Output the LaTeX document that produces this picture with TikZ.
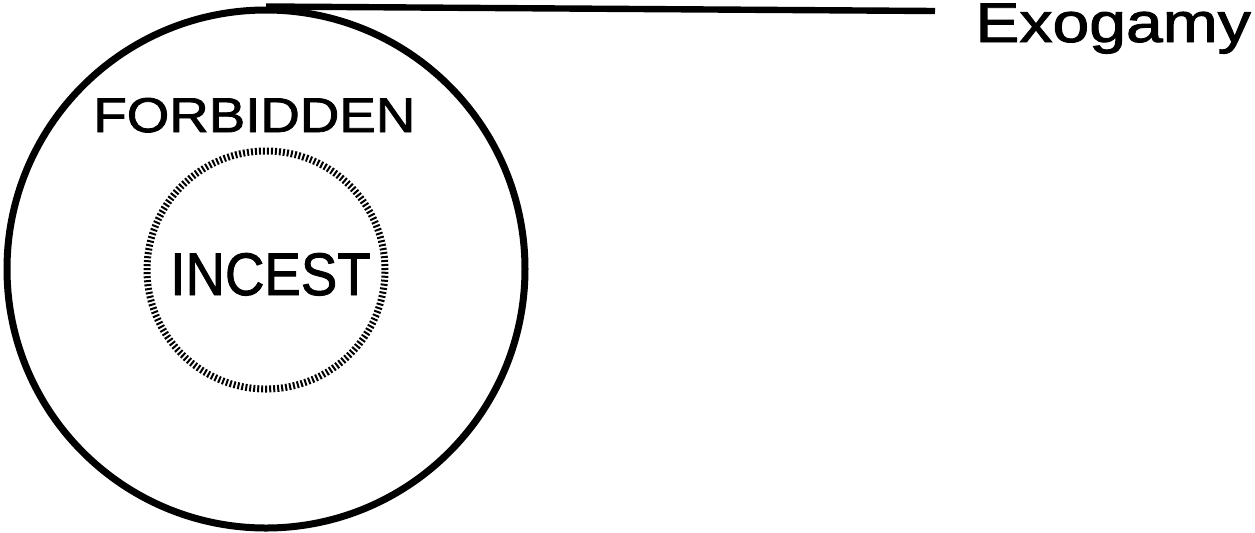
\documentclass[tikz,border=0pt]{standalone}
\usepackage{fontspec}
\setmainfont{Liberation Sans}
\newfontfamily\lblfont{Liberation Sans}[FakeBold=1.6]
\usetikzlibrary{positioning}
\tikzset{
  ring/.style={circle,draw,line width=3.5pt,inner sep=0pt},
  tickring/.style={circle,draw,line width=3.5pt,inner sep=0pt,dash pattern=on 1pt off 1pt},
  lbl/.style={inner sep=0pt,anchor=base west,font=\lblfont}
}
\begin{document}
\begin{tikzpicture}[x=0.5pt,y=-0.5pt]
        \useasboundingbox (0,0) rectangle (1255,532);
        % Circulos
        \node[ring,minimum size=259pt] (forbidden) at (266,269) {};
        \node[tickring,minimum size=119pt] (incest) at (266,270) {};
        % Textos
        \node[lbl] (forbiddenlbl) at (93,132) {\scalebox{1.12}[1]{\fontsize{24.4pt}{28pt}\selectfont FORBIDDEN}};
        \node[lbl] (incestlbl) at (170,295) {\scalebox{0.91}[1]{\fontsize{30pt}{34pt}\selectfont INCEST}};
        \node[lbl] (exogamy) at (975,42) {\scalebox{1.18}[1]{\fontsize{28pt}{32pt}\selectfont Exogamy}};
        % Linea
        \coordinate (lineend) at (935,11);
        \draw[line width=3.2pt] (forbidden.north) -- (lineend);
      \end{tikzpicture}
\end{document}
